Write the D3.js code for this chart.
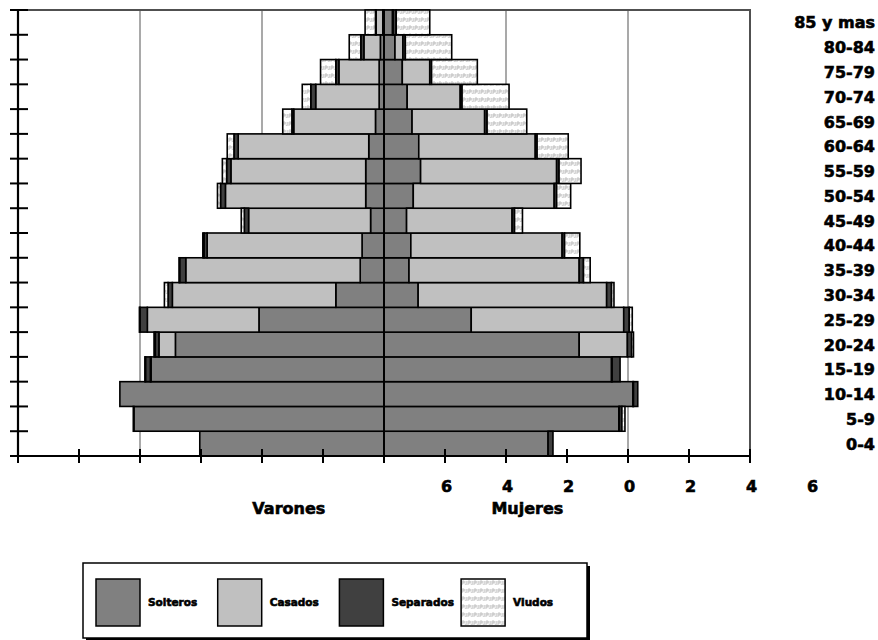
<!DOCTYPE html>
<html>
<head>
<meta charset="utf-8">
<script src="https://cdn.jsdelivr.net/npm/d3@7"></script>
<style>
  html, body { margin: 0; padding: 0; background: #fff; }
  svg { display: block; }
  text { font-family: "DejaVu Sans", "Liberation Sans", sans-serif; font-weight: bold; fill: #000; stroke: #000; stroke-width: 0.6px; }
</style>
</head>
<body>
<svg id="chart" width="878" height="640"></svg>
<script>
// ---------- data ----------
const ageGroups = ["0-4","5-9","10-14","15-19","20-24","25-29","30-34","35-39","40-44",
                   "45-49","50-54","55-59","60-64","65-69","70-74","75-79","80-84","85 y mas"];
const seriesNames = ["Solteros","Casados","Separados","Viudos"];

// Varones (percent of total population), ordered as ageGroups
const varonesSolteros  = [3.02,4.10,4.33,3.82,3.42,2.05,0.79,0.39,0.36,0.22,0.30,0.30,0.25,0.14,0.08,0.08,0.06,0.02];
const varonesCasados   = [0,0,0,0.01,0.27,1.83,2.68,2.86,2.54,2.00,2.30,2.21,2.14,1.34,1.04,0.66,0.27,0.11];
const varonesSeparados = [0,0.01,0,0.08,0.06,0.12,0.07,0.10,0.05,0.07,0.08,0.07,0.07,0.03,0.08,0.05,0.05,0.01];
const varonesViudos    = [0,0,0,0.01,0.02,0.01,0.06,0.01,0.02,0.05,0.05,0.07,0.11,0.15,0.14,0.25,0.19,0.17];

// Mujeres
const mujeresSolteros  = [2.69,3.85,4.08,3.73,3.20,1.43,0.56,0.41,0.44,0.37,0.48,0.60,0.57,0.46,0.38,0.30,0.18,0.14];
const mujeresCasados   = [0,0.01,0.01,0.01,0.79,2.50,3.09,2.79,2.48,1.73,2.31,2.23,1.91,1.19,0.87,0.45,0.13,0.01];
const mujeresSeparados = [0.08,0.04,0.07,0.13,0.07,0.09,0.08,0.07,0.04,0.04,0.04,0.04,0.03,0.04,0.03,0.03,0.04,0.05];
const mujeresViudos    = [0,0.05,0,0,0.03,0.05,0.04,0.11,0.25,0.13,0.23,0.36,0.51,0.65,0.77,0.75,0.76,0.55];

const axisTickLabels = ["6","4","2","0","2","4","6"];
const sexTitles = ["Varones","Mujeres"];

// ---------- setup ----------
const svg = d3.select("#chart");
const colors = { Solteros: "#808080", Casados: "#c0c0c0", Separados: "#404040", Viudos: "url(#viudosPat)" };

const defs = svg.append("defs");
const pat = defs.append("pattern").attr("id","viudosPat").attr("patternUnits","userSpaceOnUse")
  .attr("width",6).attr("height",8);
pat.append("rect").attr("width",6).attr("height",8).attr("fill","#fff");
pat.append("path").attr("d","M1,6 V2 H3 V4 H1").attr("fill","none").attr("stroke","#a8a8a8").attr("stroke-width",0.7);
pat.append("path").attr("d","M4,2 V5.5 H5.5 V2").attr("fill","none").attr("stroke","#b8b8b8").attr("stroke-width",0.6);

const x = d3.scaleLinear().domain([-6, 6]).range([18, 750]);
const y = d3.scaleBand().domain(ageGroups.slice().reverse()).range([10, 456]).padding(0);

// gridlines
svg.append("g").selectAll("line").data([-4,-2,2,4]).join("line")
  .attr("x1", d => x(d)).attr("x2", d => x(d)).attr("y1", 10).attr("y2", 456)
  .attr("stroke", "#707070").attr("stroke-width", 1.2);

// plot frame (top and right)
svg.append("path")
  .attr("d", `M${x(-6)},10 H${x(6)} V456`)
  .attr("fill","none").attr("stroke","#505050").attr("stroke-width",2);

// ---------- stacked bars ----------
const varRows = ageGroups.map((g,i) => ({ age:g, Solteros:varonesSolteros[i], Casados:varonesCasados[i], Separados:varonesSeparados[i], Viudos:varonesViudos[i] }));
const mujRows = ageGroups.map((g,i) => ({ age:g, Solteros:mujeresSolteros[i], Casados:mujeresCasados[i], Separados:mujeresSeparados[i], Viudos:mujeresViudos[i] }));
const stack = d3.stack().keys(seriesNames);

function drawSide(rows, sign) {
  const layers = stack(rows);
  const g = svg.append("g");
  layers.forEach(layer => {
    g.append("g").selectAll("rect").data(layer.filter(d => d[1] - d[0] > 0)).join("rect")
      .attr("x", d => Math.min(x(sign*d[0]), x(sign*d[1])))
      .attr("width", d => Math.abs(x(sign*d[1]) - x(sign*d[0])))
      .attr("y", d => y(d.data.age))
      .attr("height", y.bandwidth())
      .attr("fill", colors[layer.key])
      .attr("stroke", "#000").attr("stroke-width", 1.6);
  });
}
drawSide(varRows, -1);
drawSide(mujRows, 1);

// center line
svg.append("line").attr("x1", x(0)).attr("x2", x(0)).attr("y1", 10).attr("y2", 456)
  .attr("stroke","#000").attr("stroke-width",2);

// ---------- axes ----------
// left axis with crossing ticks at band boundaries
const bounds = y.domain().map(d => y(d)).concat([y.range()[1]]);
svg.append("line").attr("x1", x(-6)).attr("x2", x(-6)).attr("y1", 10).attr("y2", 456)
  .attr("stroke","#000").attr("stroke-width",2.2);
svg.append("g").selectAll("line").data(bounds).join("line")
  .attr("x1", x(-6) - 8).attr("x2", x(-6) + 10).attr("y1", d => d).attr("y2", d => d)
  .attr("stroke","#000").attr("stroke-width",2);

// bottom axis with crossing ticks
svg.append("line").attr("x1", x(-6)).attr("x2", x(6)).attr("y1", 456).attr("y2", 456)
  .attr("stroke","#000").attr("stroke-width",2.2);
svg.append("g").selectAll("line").data(d3.range(-6, 7)).join("line")
  .attr("x1", d => x(d)).attr("x2", d => x(d)).attr("y1", 449).attr("y2", 463)
  .attr("stroke","#000").attr("stroke-width",2);

// bottom tick labels (as they appear displaced in the reference)
const labelAxis = d3.axisBottom(x).tickValues(d3.range(1, 8)).tickSize(0)
  .tickFormat((d,i) => axisTickLabels[i]);
const la = svg.append("g").attr("transform","translate(1,478)").call(labelAxis);
la.select(".domain").remove();
la.selectAll("text").attr("font-size", 16).attr("font-family", '"DejaVu Sans", sans-serif')
  .attr("font-weight","bold").attr("fill","#000").attr("stroke","#000").attr("stroke-width",0.6);

// age labels on the right
svg.append("g").selectAll("text").data(ageGroups).join("text")
  .attr("x", 875).attr("y", d => y(d) + y.bandwidth()/2 + 6)
  .attr("text-anchor","end").attr("font-size", 16).text(d => d);

// sex titles
svg.append("text").attr("x", x(-1.56)).attr("y", 514).attr("text-anchor","middle")
  .attr("font-size",16).text(sexTitles[0]);
svg.append("text").attr("x", x(2.35)).attr("y", 514).attr("text-anchor","middle")
  .attr("font-size",16).text(sexTitles[1]);

// ---------- legend ----------
const lg = svg.append("g").attr("transform","translate(83,563)");
lg.append("rect").attr("x",3).attr("y",3).attr("width",504).attr("height",75).attr("fill","#000");
lg.append("rect").attr("x",0).attr("y",0).attr("width",504).attr("height",75)
  .attr("fill","#fff").attr("stroke","#000").attr("stroke-width",1.5);
const items = lg.selectAll("g.item").data(seriesNames).join("g")
  .attr("class","item").attr("transform",(d,i) => `translate(${13 + i*121.7},16)`);
items.append("rect").attr("width",44).attr("height",47)
  .attr("fill", d => colors[d]).attr("stroke","#000").attr("stroke-width",1.5);
items.append("text").attr("x",52).attr("y",27).attr("font-size",10.5).attr("stroke-width",0.4).text(d => d);
</script>
</body>
</html>
